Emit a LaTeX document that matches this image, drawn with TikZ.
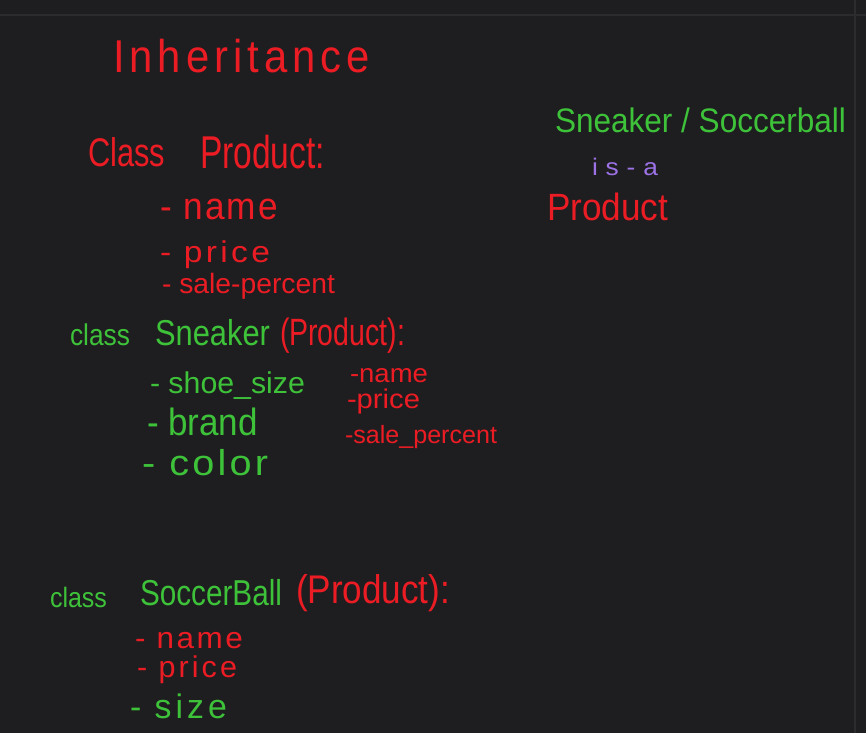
\documentclass[tikz,border=0pt]{standalone}
\usepackage{fontspec}
\setmainfont{Liberation Sans}
\usepackage{graphicx}
\definecolor{bg}{HTML}{1E1E20}
\definecolor{gridc}{HTML}{2C2C2E}
\definecolor{inkred}{HTML}{EC1C24}
\definecolor{inkgreen}{HTML}{3EC23A}
\definecolor{inkpurple}{HTML}{9C72E6}
% #1 font size, #2 target width, #3 letter spacing, #4 text
\newcommand\hw[4]{\resizebox{#2pt}{\height}{\fontsize{#1pt}{#1pt}\selectfont\addfontfeature{LetterSpace=#3}#4}}
\begin{document}
\begin{tikzpicture}[x=1pt,y=-1pt,
  ink/.style={anchor=base west, inner sep=0pt, outer sep=0pt},
  redink/.style={ink, text=inkred},
  greenink/.style={ink, text=inkgreen},
  purpleink/.style={ink, text=inkpurple},
  gridline/.style={draw=gridc, line width=1.2pt}]
\fill[bg] (0,0) rectangle (866,733);
\useasboundingbox (0,0) rectangle (866,733);
\draw[gridline] (0,15) -- (866,15);
\draw[gridline] (855,0) -- (855,733);

% title
\node[redink] (title) at (113,73) {\hw{46}{257}{12}{Inheritance}};

% class Product
\node[redink] (pclass) at (88,166) {\hw{40}{77}{0}{Class}};
\node[redink] (pname) at (200,168) {\hw{46}{125}{0}{Product:}};
\node[redink] (pattr1) at (160,219) {\hw{38}{118}{6}{- name}};
\node[redink] (pattr2) at (160,262) {\hw{30}{110}{10}{- price}};
\node[redink] (pattr3) at (162,293) {\hw{28}{173}{0}{- sale-percent}};

% class Sneaker
\node[greenink] (sclass) at (70,345) {\hw{30}{60}{0}{class}};
\node[greenink] (sname) at (155,345) {\hw{36}{115}{0}{Sneaker}};
\node[redink] (sparent) at (280,345) {\hw{38}{125}{0}{(Product):}};
\node[greenink] (sattr1) at (150,393) {\hw{30}{155}{0}{- shoe\_size}};
\node[greenink] (sattr2) at (147,435) {\hw{38}{111}{0}{- brand}};
\node[greenink] (sattr3) at (142,475) {\hw{36}{126}{8}{- color}};
\node[redink] (sinh1) at (350,382) {\hw{26}{78}{0}{-name}};
\node[redink] (sinh2) at (347,408) {\hw{27}{73}{0}{-price}};
\node[redink] (sinh3) at (345,443) {\hw{25}{152}{0}{-sale\_percent}};

% class SoccerBall
\node[greenink] (bclass) at (50,607) {\hw{28}{57}{0}{class}};
\node[greenink] (bname) at (140,605) {\hw{36}{142}{0}{SoccerBall}};
\node[redink] (bparent) at (296,603) {\hw{40}{154}{0}{(Product):}};
\node[redink] (battr1) at (135,648) {\hw{30}{108}{8}{- name}};
\node[redink] (battr2) at (137,677) {\hw{30}{100}{10}{- price}};
\node[greenink] (battr3) at (130,718) {\hw{34}{97}{12}{- size}};

% is-a note
\node[greenink] (isa1) at (555,132) {\hw{34}{291}{0}{Sneaker / Soccerball}};
\node[purpleink] (isa2) at (592,175) {\hw{24}{66}{30}{is-a}};
\node[redink] (isa3) at (547,220) {\hw{38}{121}{0}{Product}};
\end{tikzpicture}
\end{document}
